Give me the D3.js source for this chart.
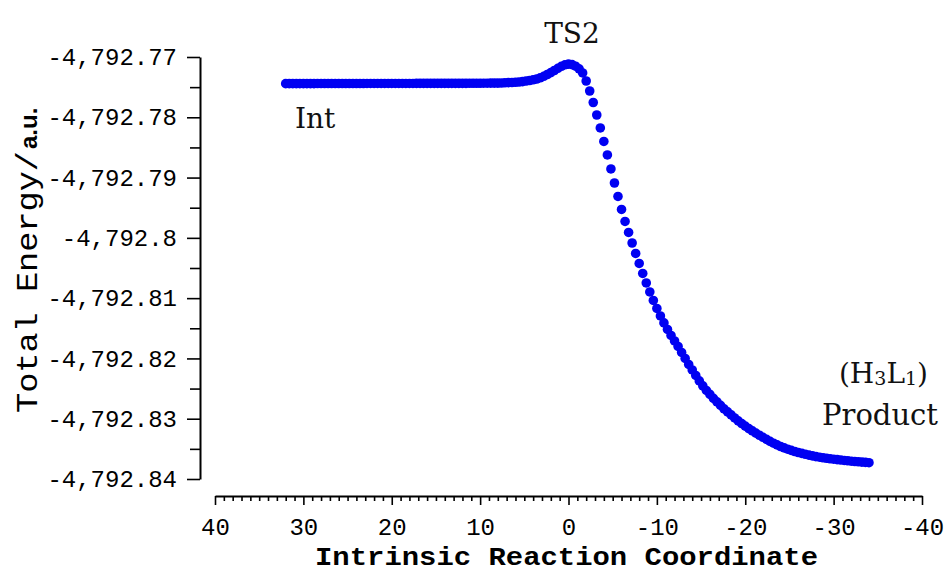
<!DOCTYPE html>
<html>
<head>
<meta charset="utf-8">
<script src="https://cdn.jsdelivr.net/npm/d3@7"></script>
<style>
  html, body { margin: 0; padding: 0; background: #ffffff; }
  svg { display: block; }
</style>
</head>
<body>
<svg id="chart" width="946" height="572"></svg>
<script>
// IRC path: reaction coordinate (amu^1/2 bohr) and total energy (hartree)
const ircCoordinate = [
  32.0, 31.6, 31.2, 30.8, 30.4,
  30.0, 29.6, 29.2, 28.8, 28.4,
  28.0, 27.6, 27.2, 26.8, 26.4,
  26.0, 25.6, 25.2, 24.8, 24.4,
  24.0, 23.6, 23.2, 22.8, 22.4,
  22.0, 21.6, 21.2, 20.8, 20.4,
  20.0, 19.6, 19.2, 18.8, 18.4,
  18.0, 17.6, 17.2, 16.8, 16.4,
  16.0, 15.6, 15.2, 14.8, 14.4,
  14.0, 13.6, 13.2, 12.8, 12.4,
  12.0, 11.6, 11.2, 10.8, 10.4,
  10.0, 9.6, 9.2, 8.8, 8.4,
  8.0, 7.6, 7.2, 6.8, 6.4,
  6.0, 5.6, 5.2, 4.8, 4.4,
  4.0, 3.6, 3.2, 2.8, 2.4,
  2.0, 1.6, 1.2, 0.8, 0.4,
  0.0, -0.4, -0.8, -1.2, -1.6,
  -2.0, -2.4, -2.8, -3.2, -3.6,
  -4.0, -4.4, -4.8, -5.2, -5.6,
  -6.0, -6.4, -6.8, -7.2, -7.6,
  -8.0, -8.4, -8.8, -9.2, -9.6,
  -10.0, -10.4, -10.8, -11.2, -11.6,
  -12.0, -12.4, -12.8, -13.2, -13.6,
  -14.0, -14.4, -14.8, -15.2, -15.6,
  -16.0, -16.4, -16.8, -17.2, -17.6,
  -18.0, -18.4, -18.8, -19.2, -19.6,
  -20.0, -20.4, -20.8, -21.2, -21.6,
  -22.0, -22.4, -22.8, -23.2, -23.6,
  -24.0, -24.4, -24.8, -25.2, -25.6,
  -26.0, -26.4, -26.8, -27.2, -27.6,
  -28.0, -28.4, -28.8, -29.2, -29.6,
  -30.0, -30.4, -30.8, -31.2, -31.6,
  -32.0, -32.4, -32.8, -33.2, -33.6,
  -34.0
];

const totalEnergy = [
  -4792.77442, -4792.77442, -4792.77442, -4792.77441, -4792.77441,
  -4792.77441, -4792.77441, -4792.77441, -4792.77441, -4792.77440,
  -4792.77440, -4792.77440, -4792.77440, -4792.77440, -4792.77440,
  -4792.77440, -4792.77440, -4792.77440, -4792.77440, -4792.77440,
  -4792.77440, -4792.77440, -4792.77440, -4792.77439, -4792.77439,
  -4792.77439, -4792.77439, -4792.77439, -4792.77439, -4792.77439,
  -4792.77439, -4792.77439, -4792.77439, -4792.77439, -4792.77439,
  -4792.77439, -4792.77439, -4792.77438, -4792.77438, -4792.77438,
  -4792.77438, -4792.77438, -4792.77438, -4792.77438, -4792.77438,
  -4792.77438, -4792.77437, -4792.77437, -4792.77437, -4792.77437,
  -4792.77437, -4792.77437, -4792.77436, -4792.77436, -4792.77436,
  -4792.77436, -4792.77435, -4792.77435, -4792.77434, -4792.77434,
  -4792.77433, -4792.77431, -4792.77428, -4792.77425, -4792.77423,
  -4792.77420, -4792.77415, -4792.77408, -4792.77398, -4792.77390,
  -4792.77378, -4792.77365, -4792.77345, -4792.77320, -4792.77290,
  -4792.77259, -4792.77224, -4792.77187, -4792.77154, -4792.77129,
  -4792.77119, -4792.77126, -4792.77153, -4792.77196, -4792.77265,
  -4792.77398, -4792.77564, -4792.77755, -4792.77962, -4792.78177,
  -4792.78401, -4792.78625, -4792.78857, -4792.79090, -4792.79313,
  -4792.79529, -4792.79728, -4792.79910, -4792.80085, -4792.80259,
  -4792.80425, -4792.80590, -4792.80748, -4792.80897, -4792.81038,
  -4792.81171, -4792.81295, -4792.81411, -4792.81519, -4792.81619,
  -4792.81710, -4792.81801, -4792.81901, -4792.82000, -4792.82100,
  -4792.82191, -4792.82282, -4792.82373, -4792.82456, -4792.82531,
  -4792.82597, -4792.82663, -4792.82721, -4792.82779, -4792.82837,
  -4792.82887, -4792.82937, -4792.82987, -4792.83036, -4792.83080,
  -4792.83123, -4792.83164, -4792.83202, -4792.83239, -4792.83274,
  -4792.83308, -4792.83342, -4792.83376, -4792.83406, -4792.83434,
  -4792.83461, -4792.83484, -4792.83506, -4792.83526, -4792.83544,
  -4792.83561, -4792.83575, -4792.83590, -4792.83604, -4792.83617,
  -4792.83629, -4792.83638, -4792.83648, -4792.83657, -4792.83665,
  -4792.83672, -4792.83678, -4792.83685, -4792.83692, -4792.83698,
  -4792.83705, -4792.83710, -4792.83715, -4792.83720, -4792.83725,
  -4792.83730
];

// Axis ticks
const xTickValues = [40, 30, 20, 10, 0, -10, -20, -30, -40];
const xTickLabels = ["40", "30", "20", "10", "0", "-10", "-20", "-30", "-40"];
const yTickValues = [-4792.77, -4792.78, -4792.79, -4792.80, -4792.81, -4792.82, -4792.83, -4792.84];
const yTickLabels = ["-4,792.77", "-4,792.78", "-4,792.79", "-4,792.8", "-4,792.81", "-4,792.82", "-4,792.83", "-4,792.84"];

// Axis titles and stationary-point labels
const xTitle = "Intrinsic Reaction Coordinate";
const yTitleMain = "Total Energy/";
const yTitleUnit = "a.u.";
const pointLabels = ["Int", "TS2", "Product"];

const svg = d3.select("#chart");
svg.append("rect").attr("width", 946).attr("height", 572).attr("fill", "#ffffff");

const x = d3.scaleLinear().domain([40, -40]).range([215, 922]);
const y = d3.scaleLinear().domain([-4792.84, -4792.77]).range([479, 57]);

const monoFont = "'Liberation Mono', 'DejaVu Sans Mono', monospace";
const serifFont = "'DejaVu Serif', 'Liberation Serif', serif";

// ---- Y axis (major + minor ticks, pointing outward) ----
const yAxisG = svg.append("g").attr("transform", "translate(200,0)");
yAxisG.call(
  d3.axisLeft(y)
    .tickValues(yTickValues)
    .tickSize(13)
    .tickSizeOuter(0)
    .tickPadding(10)
    .tickFormat((d, i) => yTickLabels[i])
);
const yMinor = d3.pairs(yTickValues).map(([a, b]) => (a + b) / 2);
const yMinorG = svg.append("g").attr("transform", "translate(200,0)");
yMinorG.call(d3.axisLeft(y).tickValues(yMinor).tickSize(10).tickFormat(""));
yMinorG.select(".domain").remove();

// ---- X axis (separate, below the plot, ticks hanging down) ----
const xAxisG = svg.append("g").attr("transform", "translate(0,496)");
xAxisG.call(
  d3.axisBottom(x)
    .tickValues(xTickValues)
    .tickSize(9)
    .tickSizeOuter(0)
    .tickPadding(13)
    .tickFormat((d, i) => xTickLabels[i])
);
const xMinor = d3.range(-40, 41, 1).filter(v => v % 10 !== 0);
const xMinorG = svg.append("g").attr("transform", "translate(0,496)");
xMinorG.call(d3.axisBottom(x).tickValues(xMinor).tickSize(5).tickFormat(""));
xMinorG.select(".domain").remove();

svg.selectAll(".domain").attr("stroke", "#000").attr("stroke-width", 2);
svg.selectAll(".tick line").attr("stroke", "#000").attr("stroke-width", 1.6);
svg.selectAll(".tick text")
  .attr("fill", "#000")
  .attr("font-family", monoFont)
  .attr("font-size", 24);

// ---- Axis titles ----
svg.append("text")
  .attr("x", 315)
  .attr("y", 565)
  .attr("font-family", monoFont)
  .attr("font-weight", "bold")
  .attr("font-size", 26)
  .attr("textLength", 503)
  .attr("lengthAdjust", "spacingAndGlyphs")
  .attr("fill", "#000")
  .text(xTitle);

const yTitle = svg.append("g").attr("transform", "translate(37,0) rotate(-90)");
yTitle.append("text")
  .attr("x", -413)
  .attr("y", 0)
  .attr("font-family", monoFont)
  .attr("font-size", 29)
  .attr("textLength", 262)
  .attr("lengthAdjust", "spacingAndGlyphs")
  .attr("fill", "#000")
  .text(yTitleMain);
yTitle.append("text")
  .attr("x", -149)
  .attr("y", 0)
  .attr("font-family", "'Liberation Sans', Arial, sans-serif")
  .attr("font-weight", "bold")
  .attr("font-size", 24)
  .attr("fill", "#000")
  .text(yTitleUnit);

// ---- IRC points ----
const points = ircCoordinate.map((c, i) => ({ c, e: totalEnergy[i] }));
svg.append("g")
  .selectAll("circle")
  .data(points)
  .join("circle")
  .attr("cx", d => x(d.c))
  .attr("cy", d => y(d.e))
  .attr("r", 4.8)
  .attr("fill", "#0000f2");

// ---- Stationary-point labels ----
svg.append("text")
  .attr("x", 295).attr("y", 128)
  .attr("font-family", serifFont).attr("font-size", 28).attr("fill", "#111")
  .text(pointLabels[0]);

svg.append("text")
  .attr("x", 572).attr("y", 43)
  .attr("text-anchor", "middle")
  .attr("font-family", serifFont).attr("font-size", 28).attr("fill", "#111")
  .text(pointLabels[1]);

const formula = svg.append("text")
  .attr("x", 928).attr("y", 383)
  .attr("text-anchor", "end")
  .attr("font-family", serifFont).attr("font-size", 28).attr("fill", "#111");
formula.append("tspan").text("(H");
formula.append("tspan").attr("font-size", 19).attr("dy", 2).text("3");
formula.append("tspan").attr("dy", -2).text("L");
formula.append("tspan").attr("font-size", 19).attr("dy", 2).text("1");
formula.append("tspan").attr("dy", -2).text(")");

svg.append("text")
  .attr("x", 938).attr("y", 425)
  .attr("text-anchor", "end")
  .attr("font-family", serifFont).attr("font-size", 29).attr("fill", "#111")
  .text(pointLabels[2]);
</script>
</body>
</html>
